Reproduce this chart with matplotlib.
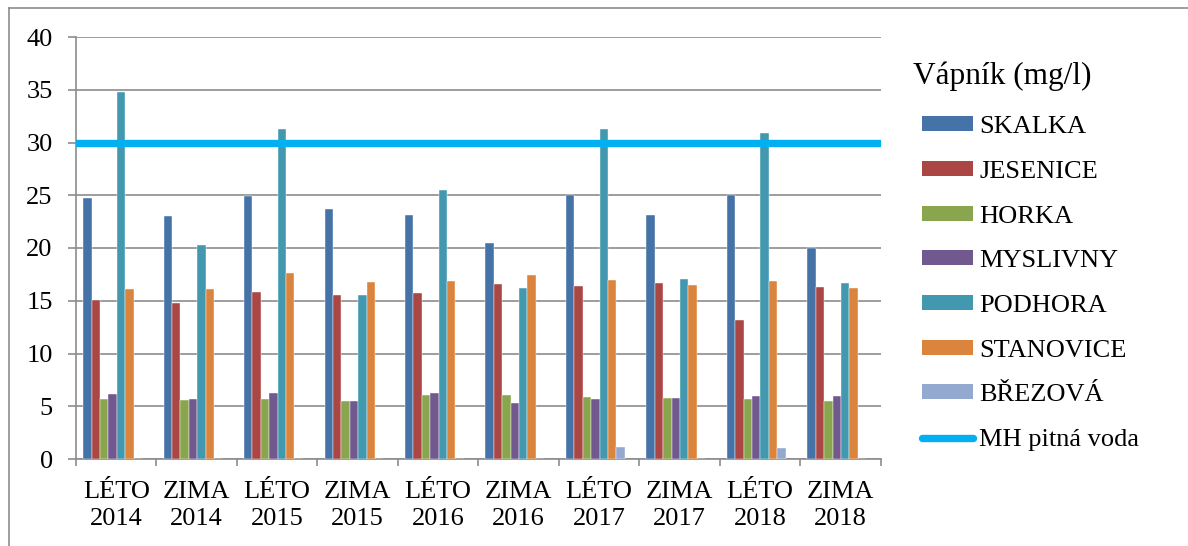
import matplotlib

matplotlib.use("Agg")

import matplotlib.pyplot as plt
import numpy as np
from matplotlib.lines import Line2D
from matplotlib.patches import Patch

plt.rcParams["font.family"] = ["Liberation Serif", "DejaVu Serif"]

periods = ["LÉTO\n2014", "ZIMA\n2014", "LÉTO\n2015", "ZIMA\n2015", "LÉTO\n2016",
           "ZIMA\n2016", "LÉTO\n2017", "ZIMA\n2017", "LÉTO\n2018", "ZIMA\n2018"]

skalka = [24.7, 23.0, 24.9, 23.7, 23.1, 20.5, 25.0, 23.1, 25.0, 20.0]
jesenice = [15.1, 14.8, 15.8, 15.5, 15.7, 16.6, 16.4, 16.7, 13.2, 16.3]
horka = [5.7, 5.6, 5.7, 5.5, 6.1, 6.1, 5.9, 5.8, 5.7, 5.5]
myslivny = [6.2, 5.7, 6.3, 5.5, 6.3, 5.3, 5.7, 5.8, 6.0, 6.0]
podhora = [34.8, 20.3, 31.3, 15.5, 25.5, 16.2, 31.3, 17.1, 30.9, 16.7]
stanovice = [16.1, 16.1, 17.6, 16.8, 16.9, 17.4, 17.0, 16.5, 16.9, 16.2]
brezova = [0, 0, 0, 0, 0, 0, 1.1, 0, 1.05, 0]
limit_value = 30

series = [
    ("SKALKA", skalka, "#4572A7"),
    ("JESENICE", jesenice, "#AA4643"),
    ("HORKA", horka, "#89A54E"),
    ("MYSLIVNY", myslivny, "#71588F"),
    ("PODHORA", podhora, "#4198AF"),
    ("STANOVICE", stanovice, "#DB843D"),
    ("BŘEZOVÁ", brezova, "#93A9CF"),
]

GRID = "#8c8c8c"
W, H = 1188, 546

fig = plt.figure(figsize=(W / 100, H / 100), dpi=100)
ax = fig.add_axes([76 / W, 87 / H, 804.7 / W, 422 / H])

x = np.arange(len(periods))
width = 0.1045
shift = -0.046
for i, (name, vals, color) in enumerate(series):
    pos = x + shift + (i - 3) * width
    ax.bar(pos, vals, width, color=color, edgecolor="white", linewidth=0.3, zorder=3)

ax.axhline(limit_value, color="#00B0F0", lw=5.3, zorder=4)

ax.set_xlim(-0.5, len(periods) - 0.5)
ax.set_ylim(0, 40)
ax.set_yticks(range(0, 41, 5))
ax.yaxis.grid(True, color=GRID, lw=1.2, zorder=0)
ax.set_axisbelow(True)

ax.set_xticks(x)
ax.set_xticklabels(periods, fontsize=19, linespacing=1.3)
ax.set_xticks(np.arange(-0.5, len(periods)), minor=True)
ax.tick_params(axis="x", which="major", length=0, pad=16)
ax.tick_params(axis="x", which="minor", length=4.8, width=1.2, color=GRID)
ax.tick_params(axis="y", length=5.8, width=1.2, color=GRID, labelsize=19, pad=11)

for side in ("top", "right"):
    ax.spines[side].set_visible(False)
for side in ("left", "bottom"):
    ax.spines[side].set_color(GRID)
    ax.spines[side].set_linewidth(1.2)

# legend: title as separate text, entries below it
fig.text(913 / W, 1 - 76 / H, "Vápník (mg/l)", fontsize=22.5, ha="left", va="center")

handles = [Patch(facecolor=c, edgecolor="none", label=n) for n, _, c in series]
handles.append(Line2D([], [], color="#00B0F0", lw=5.3, solid_capstyle="round",
                      label="MH pitná voda"))
ax.legend(handles=handles, loc="upper left", bbox_to_anchor=(1.0513, 0.8125),
          frameon=False, fontsize=19, borderpad=0, borderaxespad=0,
          handlelength=1.95, handleheight=0.49, handletextpad=0.22,
          labelspacing=0.86)

# outer frame (only top and left edges are visible)
fig.add_artist(Line2D([9 / W, 1], [1 - 8 / H, 1 - 8 / H],
                      transform=fig.transFigure, color=GRID, lw=1.2))
fig.add_artist(Line2D([9 / W, 9 / W], [0, 1 - 8 / H],
                      transform=fig.transFigure, color=GRID, lw=1.2))

fig.savefig("out.png", dpi=100)
